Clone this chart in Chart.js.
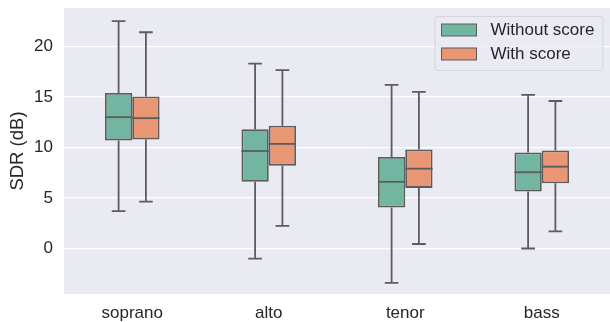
<!DOCTYPE html>
<html>
<head>
<meta charset="utf-8">
<script src="https://cdn.jsdelivr.net/npm/chart.js@4.4.1/dist/chart.umd.min.js"></script>
<style>
  html, body { margin: 0; padding: 0; background: #fff; }
  #wrap { width: 610px; height: 322px; }
</style>
</head>
<body>
<div id="wrap"><canvas id="chart"></canvas></div>
<script>
const categories = ["soprano", "alto", "tenor", "bass"];
const seriesNames = ["Without score", "With score"];
const yTicks = [0, 5, 10, 15, 20];

// box stats: low whisker, q1, median, q3, high whisker
const withoutLow = [3.7, -1.0, -3.4, 0.0];
const withoutQ1 = [10.7, 6.6, 4.05, 5.65];
const withoutMed = [13.0, 9.65, 6.6, 7.55];
const withoutQ3 = [15.4, 11.8, 9.05, 9.5];
const withoutHigh = [22.5, 18.3, 16.2, 15.2];

const withLow = [4.65, 2.25, 0.45, 1.7];
const withQ1 = [10.8, 8.2, 6.0, 6.45];
const withMed = [12.9, 10.35, 7.9, 8.1];
const withQ3 = [15.05, 12.15, 9.8, 9.7];
const withHigh = [21.4, 17.65, 15.5, 14.6];

const colors = ["#72b6a1", "#e99675"];
const lineColor = "#5c5c5c";
const font = "'Liberation Sans', Arial, sans-serif";

const stats = [
  { low: withoutLow, q1: withoutQ1, med: withoutMed, q3: withoutQ3, high: withoutHigh },
  { low: withLow, q1: withQ1, med: withMed, q3: withQ3, high: withHigh }
];

const bgPlugin = {
  id: "bg",
  beforeDraw(chart) {
    const { ctx, chartArea: a } = chart;
    ctx.save();
    ctx.fillStyle = "#eaeaf2";
    ctx.fillRect(a.left, a.top, a.right - a.left, a.bottom - a.top);
    ctx.restore();
  }
};

const boxPlugin = {
  id: "boxes",
  beforeDatasetsDraw(chart) {
    const { ctx } = chart;
    const y = chart.scales.y;
    ctx.save();
    ctx.strokeStyle = lineColor;
    ctx.lineWidth = 1.8;
    stats.forEach((s, di) => {
      chart.getDatasetMeta(di).data.forEach((bar, i) => {
        const cap = bar.width / 4;
        [[s.q1[i], s.low[i]], [s.q3[i], s.high[i]]].forEach(([from, to]) => {
          ctx.beginPath();
          ctx.moveTo(bar.x, y.getPixelForValue(from));
          ctx.lineTo(bar.x, y.getPixelForValue(to));
          ctx.moveTo(bar.x - cap, y.getPixelForValue(to));
          ctx.lineTo(bar.x + cap, y.getPixelForValue(to));
          ctx.stroke();
        });
      });
    });
    ctx.restore();
  },
  afterDatasetsDraw(chart) {
    const { ctx } = chart;
    const y = chart.scales.y;
    ctx.save();
    ctx.strokeStyle = lineColor;
    ctx.lineWidth = 1.8;
    stats.forEach((s, di) => {
      chart.getDatasetMeta(di).data.forEach((bar, i) => {
        const py = y.getPixelForValue(s.med[i]);
        ctx.beginPath();
        ctx.moveTo(bar.x - bar.width / 2, py);
        ctx.lineTo(bar.x + bar.width / 2, py);
        ctx.stroke();
      });
    });
    ctx.restore();
  }
};

const legendPlugin = {
  id: "boxLegend",
  afterDraw(chart) {
    const { ctx } = chart;
    const left = 435, top = 16.5, w = 168, h = 54;
    ctx.save();
    ctx.beginPath();
    ctx.roundRect(left, top, w, h, 3);
    ctx.fillStyle = "rgba(234,234,242,0.8)";
    ctx.fill();
    ctx.strokeStyle = "#d4d4dc";
    ctx.lineWidth = 1;
    ctx.stroke();
    ctx.font = "17px " + font;
    ctx.textBaseline = "middle";
    seriesNames.forEach((name, i) => {
      const cy = top + 13.5 + i * 24;
      ctx.fillStyle = colors[i];
      ctx.fillRect(441.5, cy - 6, 35, 12);
      ctx.strokeStyle = lineColor;
      ctx.lineWidth = 1;
      ctx.strokeRect(441.5, cy - 6, 35, 12);
      ctx.fillStyle = "#262626";
      ctx.fillText(name, 490.5, cy + 0.5);
    });
    ctx.restore();
  }
};

new Chart(document.getElementById("chart"), {
  type: "bar",
  data: {
    labels: categories,
    datasets: stats.map((s, di) => ({
      label: seriesNames[di],
      data: s.q1.map((v, i) => [v, s.q3[i]]),
      backgroundColor: colors[di],
      borderColor: lineColor,
      borderWidth: 1.8,
      borderSkipped: false,
      categoryPercentage: 0.4,
      barPercentage: 1.0
    }))
  },
  options: {
    responsive: true,
    maintainAspectRatio: false,
    animation: false,
    layout: { padding: { top: 8, right: 0, left: 0, bottom: 0 } },
    plugins: {
      legend: { display: false },
      tooltip: { enabled: false }
    },
    scales: {
      x: {
        grid: { display: false, drawTicks: false },
        border: { display: false },
        ticks: { color: "#262626", font: { family: font, size: 17 }, padding: 9 },
        afterFit(scale) {
          scale.height = 28;
          scale.paddingLeft = 0;
          scale.paddingRight = 0;
        }
      },
      y: {
        min: -4.5,
        max: 23.8,
        afterBuildTicks(scale) { scale.ticks = yTicks.map((v) => ({ value: v })); },
        grid: { color: "#ffffff", lineWidth: 1.2, drawTicks: false },
        border: { display: false },
        ticks: { color: "#262626", font: { family: font, size: 17 }, padding: 11 },
        title: {
          display: true,
          text: "SDR (dB)",
          color: "#262626",
          font: { family: font, size: 18.5 },
          padding: { top: 7, bottom: 0 }
        },
        afterFit(scale) {
          scale.width = 64;
          scale.paddingTop = 0;
          scale.paddingBottom = 0;
        }
      }
    }
  },
  plugins: [bgPlugin, boxPlugin, legendPlugin]
});
</script>
</body>
</html>
